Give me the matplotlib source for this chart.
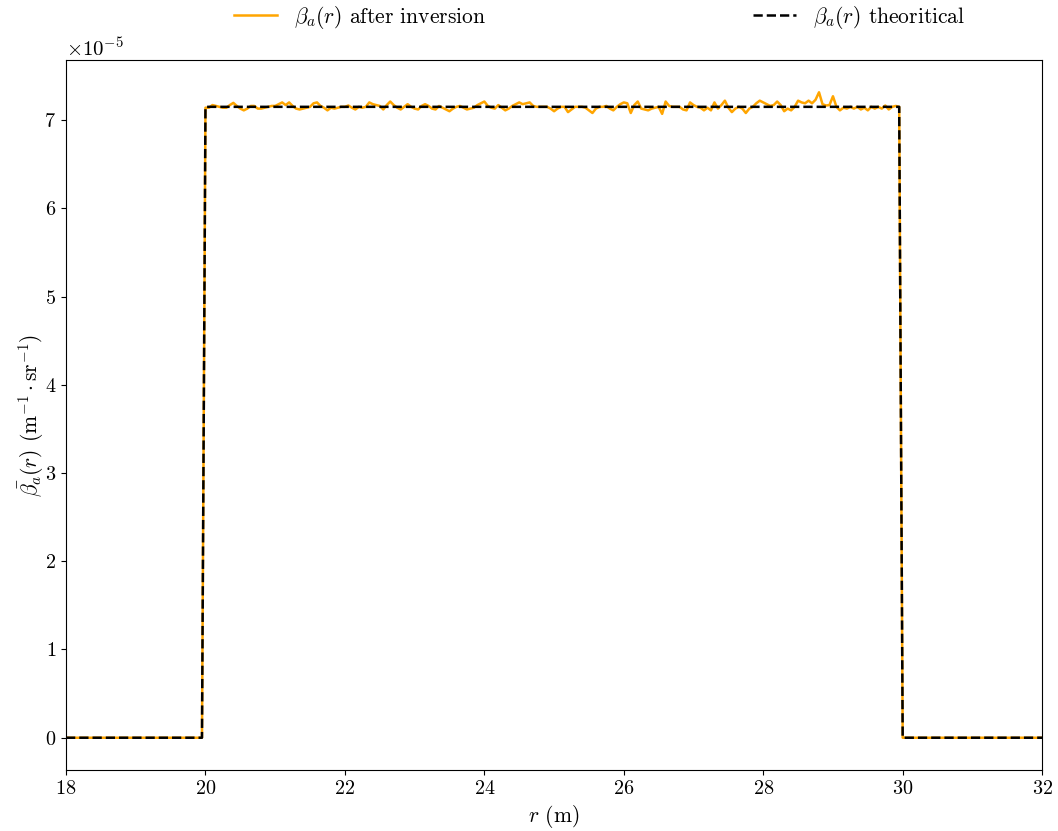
import numpy as np
import matplotlib
matplotlib.use("Agg")
import matplotlib.pyplot as plt

plt.rcParams['font.family'] = 'serif'
plt.rcParams['font.serif'] = ['cmr10']
plt.rcParams['mathtext.fontset'] = 'cm'
plt.rcParams['axes.formatter.use_mathtext'] = True
plt.rcParams['axes.unicode_minus'] = False

# Range / grid (m)
r_min, r_max, dr = 18.0, 32.0, 0.05
layer_start, layer_end = 20.0, 30.0
beta_theory = 7.15  # x1e-5

# Deviations of the inverted profile from theory inside the layer (x1e-7), r = 20.00 ... 29.95 step 0.05
inv_dev = [
    -1, -1, 2, 1, 0, -1, -1, 2, 4.5, 1, -2, -4, -2, 1, 1, -2, -2, -1, 0, 1,
    1, 3, 5, 2, 5, 1, -2, -3, -2, -1, 0, 4, 5, 1, -1, -4, -1, -2, -1, 0,
    0, 1.5, -1, -3, 0, -1, 0, 5, 3, 2, 1, -3, 2, 6, 2, -1, -3, 0, 3, 0,
    -2, -3, 1, 3, 1, -2, -3, 1, -1, -3, -5, -2, 0, 1, -1, -3, -2, -1, 2, 4,
    6, 1, -1, -2, 2, -1, -4, -2, 1, 3, 5, 3, 4, 5, 1, 0, 0, 0, 0, -2,
    -5, -2, 0, 0, -6, -3, 0, 0, 0, -1, -4, -7, -2, 0, 0, 1, -2, -4, 0, 3,
    5, 4, -7, 2, 6, -2, -3, -4, -2, -1, 0, -8, 6, 1, 0, 0, 0, -3, -4, 5,
    2, 0, -1, -4, -1, -4, 5, -2, 2, 7, -1, -6, -2, 0, -2, -7, -2, 0, 4, 7,
    5, 3, 1, 2, 6, 2, -5, -2, -4, 0, 7, 5, 4, 7, 4, 8, 16.5, 3, 1.5, 2,
    12, 0, -4, -1, -2, 0, -2, 0, -3, -1, -4, 0, -2, 0, -2, 1.5, -3, 0, 1, 0,
]

r = np.round(np.arange(r_min, r_max + dr / 2, dr), 4)
inside = (r >= layer_start - 1e-9) & (r < layer_end - 1e-9)
theory = np.where(inside, beta_theory, 0.0) * 1e-5
inverted = np.zeros_like(r)
inverted[inside] = (beta_theory + np.array(inv_dev) / 100.0) * 1e-5

fig = plt.figure(figsize=(10.58, 8.31), dpi=100)
ax = fig.add_axes([0.0624, 0.0734, 0.9226, 0.8544])

ax.plot(r, inverted, color='orange', lw=1.8, label=r'$\beta_a(r)$ after inversion')
ax.plot(r, theory, color='black', lw=1.8, ls='--', label=r'$\beta_a(r)$ theoritical')

ax.set_xlim(r_min, r_max)
ax.set_xticks(np.arange(18, 33, 2))
ax.tick_params(labelsize=14.5)
ax.yaxis.get_offset_text().set_fontsize(15)
ax.set_xlabel(r'$r$ (m)', fontsize=15.5)
ax.set_ylabel(r'$\bar{\beta_a}(r)$ (m$^{-1}\cdot$sr$^{-1}$)', fontsize=15.5, labelpad=-1)

ax.legend(loc='lower left', bbox_to_anchor=(0.163, 1.029), ncol=2, frameon=False,
          fontsize=15.5, columnspacing=12.4, handlelength=2.0, borderaxespad=0)

fig.savefig('out.png', dpi=100)
